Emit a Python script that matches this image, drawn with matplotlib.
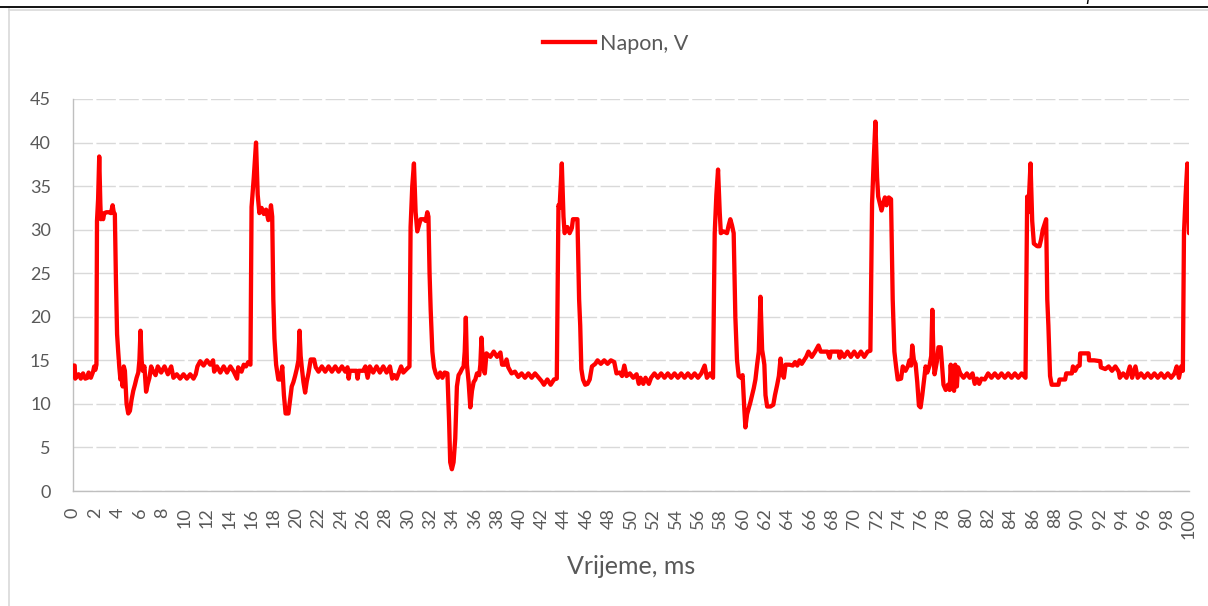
import matplotlib.pyplot as plt
from matplotlib.lines import Line2D

# napon po segmentima: (vrijeme u ms, napon u V)
seg_1 = [(0.0, 14.4), (0.15, 14.4), (0.2, 12.9), (0.5, 13.4), (0.7, 12.9), (0.9, 13.5),
         (1.1, 12.9), (1.3, 13.0), (1.4, 13.6), (1.6, 13.0), (1.8, 13.7), (1.9, 14.3),
         (2.0, 13.9), (2.1, 14.5),
         (2.15, 31.0), (2.25, 33.5), (2.35, 38.4), (2.45, 33.0), (2.5, 31.2), (2.6, 31.6),
         (2.7, 31.2), (2.8, 31.9), (3.0, 32.0), (3.2, 32.0), (3.4, 31.9), (3.55, 32.8),
         (3.65, 32.0), (3.75, 31.8),
         (3.85, 24.0), (3.95, 18.0), (4.05, 16.0), (4.15, 14.2), (4.25, 12.8), (4.35, 13.5),
         (4.45, 12.0), (4.55, 14.3), (4.65, 13.8), (4.8, 10.0), (4.95, 8.9), (5.1, 9.2),
         (5.25, 10.5), (5.4, 11.5), (5.55, 12.2), (5.7, 13.0), (5.85, 13.6), (5.95, 15.0),
         (6.05, 18.4), (6.15, 15.0), (6.25, 13.8), (6.4, 14.3), (6.55, 11.4), (6.7, 12.3),
         (6.85, 13.0), (7.0, 14.3), (7.15, 13.8),
         (7.4, 13.3), (7.6, 14.3), (7.9, 13.6), (8.2, 14.3), (8.5, 13.4), (8.8, 14.3),
         (9.0, 13.0), (9.3, 13.4), (9.6, 12.9), (9.9, 13.4), (10.2, 12.9), (10.5, 13.4),
         (10.8, 12.9), (11.0, 13.4), (11.15, 14.3), (11.4, 14.9), (11.7, 14.4), (12.0, 15.0),
         (12.3, 14.5), (12.55, 15.0), (12.65, 13.7), (12.9, 14.3), (13.2, 13.6), (13.5, 14.3),
         (13.8, 13.6), (14.1, 14.3), (14.4, 13.7), (14.7, 12.9), (14.8, 14.2), (15.1, 13.7),
         (15.3, 14.5), (15.5, 14.3), (15.7, 14.8), (15.9, 14.5)]

seg_2 = [(16.0, 32.6), (16.2, 36.0), (16.4, 40.0), (16.55, 34.0), (16.7, 31.9), (16.9, 32.5),
         (17.1, 31.8), (17.3, 32.3), (17.5, 31.1), (17.6, 31.3), (17.74, 32.8), (17.85, 31.5),
         (17.95, 22.0), (18.05, 17.5), (18.2, 14.5), (18.4, 12.8), (18.6, 12.8), (18.75, 14.3),
         (18.9, 11.0), (19.05, 8.9), (19.3, 8.9), (19.45, 10.5), (19.6, 12.0), (19.75, 12.5),
         (19.9, 13.2), (20.05, 14.0), (20.2, 15.0), (20.3, 18.4), (20.4, 15.5), (20.5, 14.2),
         (20.65, 12.5), (20.8, 11.3), (20.95, 12.6), (21.1, 13.5), (21.3, 15.1), (21.6, 15.1),
         (21.75, 14.2), (22.0, 13.7), (22.3, 14.3), (22.6, 13.7), (22.9, 14.3), (23.2, 13.7),
         (23.5, 14.3), (23.8, 13.7), (24.1, 14.3), (24.4, 13.7), (24.6, 14.2), (24.7, 12.9),
         (24.8, 13.8), (25.1, 13.8), (25.4, 13.8), (25.5, 12.9), (25.6, 13.8), (26.0, 13.8),
         (26.2, 14.3), (26.4, 13.0), (26.6, 14.3), (26.9, 13.6), (27.2, 14.3), (27.5, 13.6),
         (27.8, 14.3), (28.1, 13.6), (28.4, 14.3), (28.6, 12.9), (28.8, 13.3), (29.0, 12.9),
         (29.2, 13.6), (29.4, 14.3), (29.6, 13.6), (29.9, 14.0), (30.15, 14.3)]

seg_3 = [(30.25, 30.3), (30.4, 35.0), (30.55, 37.6), (30.7, 32.0), (30.85, 29.8), (31.0, 30.5),
         (31.15, 31.2), (31.45, 31.2), (31.6, 31.0), (31.75, 32.0), (31.85, 31.5),
         (31.95, 25.0), (32.05, 20.8), (32.2, 16.0), (32.35, 14.2), (32.5, 13.5), (32.7, 13.0),
         (32.9, 13.6), (33.1, 13.0), (33.3, 13.6), (33.55, 13.5),
         (33.7, 8.0), (33.8, 3.3), (33.95, 2.5), (34.1, 3.3), (34.25, 6.0), (34.4, 12.0),
         (34.55, 13.3), (34.7, 13.6), (34.85, 14.0), (35.0, 14.3), (35.1, 16.0), (35.2, 19.9),
         (35.3, 14.5), (35.45, 12.5), (35.6, 9.6), (35.75, 11.5), (35.9, 12.5), (36.05, 12.8),
         (36.2, 13.5), (36.4, 13.3), (36.5, 14.5), (36.6, 17.6), (36.75, 14.3), (36.9, 13.5),
         (37.05, 15.8), (37.4, 15.4), (37.7, 16.0), (38.0, 15.4), (38.3, 15.9), (38.45, 14.5),
         (38.7, 14.5), (38.85, 15.1), (39.0, 14.2), (39.3, 13.5), (39.6, 13.7),
         (39.9, 13.1), (40.2, 13.5), (40.5, 13.0), (40.8, 13.5), (41.1, 13.0), (41.4, 13.5),
         (41.8, 12.9), (42.0, 12.6), (42.2, 12.2), (42.5, 12.8), (42.8, 12.2), (43.1, 12.8),
         (43.35, 12.9)]

seg_4 = [(43.5, 32.8), (43.6, 32.5), (43.8, 37.6), (43.95, 31.5), (44.05, 29.6), (44.3, 30.3),
         (44.5, 29.6), (44.7, 30.2), (44.8, 31.2), (45.2, 31.2),
         (45.35, 22.0), (45.45, 19.0), (45.55, 14.0), (45.7, 12.8), (45.9, 12.2), (46.1, 12.3),
         (46.3, 12.8), (46.5, 14.3), (46.8, 14.6), (47.0, 15.0), (47.3, 14.6), (47.6, 15.0),
         (47.9, 14.6), (48.2, 15.0), (48.5, 14.8), (48.7, 13.5), (49.0, 13.6), (49.2, 13.2),
         (49.4, 14.4), (49.6, 13.2), (49.9, 13.5), (50.2, 13.0), (50.5, 13.4),
         (50.7, 12.3), (50.85, 13.0), (51.1, 12.3), (51.3, 13.0), (51.6, 12.3), (51.8, 13.0),
         (52.1, 13.5), (52.4, 13.0), (52.7, 13.5), (53.0, 13.0), (53.3, 13.5), (53.6, 13.0),
         (53.9, 13.5), (54.2, 13.0), (54.5, 13.5), (54.8, 13.0), (55.1, 13.5), (55.4, 13.0),
         (55.7, 13.5), (56.0, 13.0), (56.3, 13.5), (56.6, 14.4), (56.8, 13.0), (57.1, 13.5),
         (57.35, 13.0)]

seg_5 = [(57.5, 29.6), (57.65, 34.0), (57.8, 36.9), (57.95, 32.0), (58.05, 29.6), (58.3, 29.8),
         (58.6, 29.6), (58.75, 30.5), (58.9, 31.2), (59.05, 30.5), (59.2, 29.6),
         (59.35, 20.0), (59.5, 15.0), (59.65, 13.2), (59.85, 13.0), (60.0, 13.3), (60.15, 9.5),
         (60.25, 7.3), (60.4, 8.8), (60.55, 9.5), (60.7, 10.2), (60.85, 11.0), (61.0, 11.8),
         (61.15, 12.8), (61.3, 14.5), (61.45, 16.0), (61.6, 22.3), (61.75, 16.2), (61.85, 15.4),
         (61.95, 14.5), (62.05, 11.0), (62.2, 9.7), (62.5, 9.7), (62.75, 9.9), (62.9, 11.0),
         (63.1, 12.2), (63.25, 13.2), (63.4, 15.2), (63.55, 13.5), (63.7, 13.0), (63.85, 14.5),
         (64.2, 14.5), (64.5, 14.4), (64.7, 14.8), (64.9, 14.4), (65.1, 15.0), (65.3, 14.6),
         (65.5, 15.0), (65.7, 15.4), (65.9, 16.0), (66.2, 15.4), (66.5, 16.0), (66.8, 16.7),
         (67.0, 16.0), (67.3, 16.0), (67.6, 16.0), (67.8, 15.3), (67.9, 16.0), (68.3, 16.0),
         (68.6, 16.0), (68.7, 15.3), (68.8, 16.0), (69.1, 15.4), (69.4, 16.0), (69.7, 15.4),
         (70.0, 16.0), (70.3, 15.4), (70.6, 16.0), (70.9, 15.4), (71.2, 16.0), (71.45, 16.1)]

seg_6 = [(71.6, 33.0), (71.75, 38.0), (71.9, 42.4), (72.05, 36.0), (72.15, 33.8), (72.3, 33.0),
         (72.45, 32.2), (72.6, 33.0), (72.75, 33.7), (72.9, 32.8), (73.1, 33.7), (73.3, 33.5),
         (73.45, 22.0), (73.6, 16.0), (73.75, 14.3), (73.9, 12.8), (74.2, 12.9), (74.35, 14.3),
         (74.6, 13.8), (74.8, 14.3), (74.95, 15.0), (75.1, 14.4), (75.2, 16.7), (75.35, 15.0),
         (75.5, 14.6), (75.65, 12.5), (75.8, 9.8), (75.95, 9.6), (76.1, 11.0), (76.25, 12.6),
         (76.4, 14.3), (76.55, 13.6), (76.75, 14.4), (76.9, 15.5), (77.0, 20.8), (77.1, 15.5),
         (77.2, 13.4), (77.4, 14.8), (77.55, 16.5), (77.75, 16.5), (77.9, 14.0), (78.0, 12.2),
         (78.2, 11.6), (78.4, 12.2), (78.55, 11.6), (78.65, 14.5), (78.75, 12.2), (78.95, 11.5),
         (79.05, 14.5), (79.2, 12.0), (79.3, 14.2), (79.5, 13.5), (79.8, 13.0), (80.1, 13.5),
         (80.35, 13.0), (80.6, 13.5), (80.8, 12.3), (81.0, 12.9), (81.2, 12.3), (81.4, 12.9),
         (81.7, 12.8), (82.0, 13.5), (82.3, 13.0), (82.6, 13.5), (82.9, 13.0), (83.2, 13.5),
         (83.5, 13.0), (83.8, 13.5), (84.1, 13.0), (84.4, 13.5), (84.7, 13.0), (85.0, 13.5),
         (85.35, 13.0)]

seg_7 = [(85.5, 33.8), (85.6, 32.0), (85.8, 37.6), (85.95, 31.0), (86.1, 28.4), (86.4, 28.1),
         (86.6, 28.1), (86.75, 28.9), (86.9, 30.0), (87.0, 30.4), (87.2, 31.2),
         (87.3, 22.0), (87.4, 19.0), (87.55, 13.2), (87.7, 12.2), (88.0, 12.2), (88.3, 12.2),
         (88.4, 12.8), (88.9, 12.8), (89.0, 13.5), (89.5, 13.5), (89.6, 14.3), (89.8, 13.8),
         (90.0, 14.3), (90.2, 14.4), (90.25, 15.8), (91.0, 15.8), (91.05, 15.0), (91.5, 15.0),
         (92.05, 14.9), (92.1, 14.2), (92.5, 14.0), (92.8, 14.3), (93.1, 13.8), (93.4, 14.3),
         (93.7, 13.7), (93.8, 13.0), (94.1, 13.5), (94.4, 13.0), (94.7, 14.3), (94.9, 13.0),
         (95.2, 14.3), (95.4, 13.0), (95.7, 13.5), (96.0, 13.0), (96.3, 13.5), (96.6, 13.0),
         (96.9, 13.5), (97.2, 13.0), (97.5, 13.5), (97.8, 13.0), (98.1, 13.5), (98.4, 13.0),
         (98.7, 13.5), (98.9, 14.3), (99.1, 13.0), (99.3, 14.3), (99.45, 13.8)]

seg_8 = [(99.55, 29.6), (99.7, 34.0), (99.85, 37.6), (99.95, 33.0), (100.0, 29.6)]

x_ticks = list(range(0, 101, 2))
y_ticks = list(range(0, 46, 5))

samples = seg_1 + seg_2 + seg_3 + seg_4 + seg_5 + seg_6 + seg_7 + seg_8
vrijeme = [p[0] for p in samples]
napon = [p[1] for p in samples]

plt.rcParams['font.family'] = ['Lato', 'DejaVu Sans']
txt = '#595959'
grid_c = '#D9D9D9'

fig = plt.figure(figsize=(12.08, 6.06), dpi=100)
ax = fig.add_axes([73 / 1208, 1 - 491 / 606, (1189 - 73) / 1208, (491 - 99) / 606])

ax.plot(vrijeme, napon, color='#FF0000', lw=3.1, solid_joinstyle='round',
        solid_capstyle='round', zorder=3)

ax.set_xlim(0, 100)
ax.set_ylim(0, 45)
ax.set_xticks(x_ticks)
ax.set_xticklabels([str(v) for v in x_ticks], rotation=90)
ax.set_yticks(y_ticks)
ax.tick_params(axis='both', length=0, labelsize=13, colors=txt)
ax.tick_params(axis='x', pad=12)
ax.tick_params(axis='y', pad=16)

ax.grid(axis='y', color=grid_c, lw=1.0, dashes=(14, 2.5))
ax.set_axisbelow(True)
for s in ('top', 'right'):
    ax.spines[s].set_visible(False)
for s in ('left', 'bottom'):
    ax.spines[s].set_color('#BFBFBF')
    ax.spines[s].set_linewidth(1.0)

ax.set_xlabel('Vrijeme, ms', fontsize=18, color=txt, labelpad=12)

handle = Line2D([], [], color='#FF0000', lw=3.1)
fig.legend([handle], ['Napon, V'], loc='center', bbox_to_anchor=(616 / 1208, 1 - 44 / 606),
           frameon=False, fontsize=15.5, labelcolor=txt, handlelength=2.4, handletextpad=0.25)

# okvir dijagrama i linija zaglavlja stranice
fig.add_artist(Line2D([9 / 1208, 9 / 1208], [0, 1 - 9 / 606], color=grid_c, lw=1.2))
fig.add_artist(Line2D([9 / 1208, 1], [1 - 9.5 / 606, 1 - 9.5 / 606], color=grid_c, lw=1.2))
fig.add_artist(Line2D([0, 1], [1 - 7 / 606, 1 - 7 / 606], color='black', lw=1.3))
fig.text(1089 / 1208, 1 - 4 / 606, 'r', family='Liberation Serif', style='italic',
         fontsize=13, va='baseline', ha='center', color='black')

fig.savefig('out.png', dpi=100)
